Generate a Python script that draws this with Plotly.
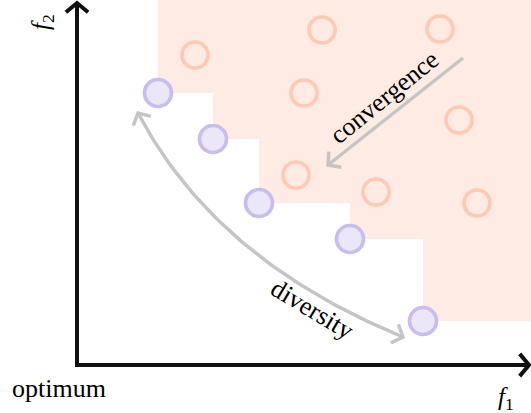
import numpy as np
import plotly.graph_objects as go

# ---- data (objective space, arbitrary units) ----
front_f1 = [8.1, 13.6, 18.2, 27.3, 34.6]          # Pareto-front approximation (purple)
front_f2 = [27.2, 22.6, 16.2, 12.6, 4.4]
pop_f1 = [11.8, 24.5, 36.3, 22.7, 38.2, 21.9, 29.9, 40.0]   # dominated solutions (orange)
pop_f2 = [31.0, 33.5, 33.6, 27.2, 24.5, 19.0, 17.3, 16.2]
x_range = [-7.7, 45.4]
y_range = [-4.8, 36.5]
axis_end_f1 = 45.2
axis_end_f2 = 36.2
conv_start = (38.6, 30.7)
conv_end = (25.1, 20.0)
div_start = (6.1, 25.2)
div_ctrl = (13.8, 10.5)
div_end = (32.6, 2.8)

SHADE = "rgb(254,235,227)"
ORANGE = "rgb(255,201,178)"
PURPLE_LINE = "rgb(200,189,238)"
PURPLE_FILL = "rgb(235,231,249)"
GRAY = "rgb(196,198,196)"
INK = "#000000"
FONT = "Liberation Serif"

fig = go.Figure()

# dominated region (staircase built from the front)
sx = [front_f1[0], front_f1[0]]
sy = [y_range[1], front_f2[0]]
for i in range(1, len(front_f1)):
    sx += [front_f1[i], front_f1[i]]
    sy += [front_f2[i - 1], front_f2[i]]
sx += [x_range[1], x_range[1]]
sy += [front_f2[-1], y_range[1]]
fig.add_trace(go.Scatter(x=sx, y=sy, mode="lines", fill="toself", fillcolor=SHADE,
                         line=dict(width=0, color=SHADE), hoverinfo="skip"))


def chevron(tip, direction, length=1.35, angle_deg=48):
    d = np.array(direction, float)
    d = d / np.linalg.norm(d)
    back = -d
    pts = []
    for s in (1, -1):
        a = np.radians(angle_deg * s)
        rot = np.array([[np.cos(a), -np.sin(a)], [np.sin(a), np.cos(a)]])
        pts.append(np.array(tip) + length * rot @ back)
    return [pts[0][0], tip[0], pts[1][0]], [pts[0][1], tip[1], pts[1][1]]


def add_line(xs, ys, color, width):
    fig.add_trace(go.Scatter(x=xs, y=ys, mode="lines",
                             line=dict(color=color, width=width), hoverinfo="skip"))


# axes
add_line([0, 0, axis_end_f1], [axis_end_f2, 0, 0], "#111111", 4)
cx, cy = chevron((axis_end_f1, 0), (1, 0), 1.45, 50)
add_line(cx, cy, "#111111", 4)
cx, cy = chevron((0, axis_end_f2), (0, 1), 1.45, 50)
add_line(cx, cy, "#111111", 4)

# convergence arrow
add_line([conv_start[0], conv_end[0]], [conv_start[1], conv_end[1]], GRAY, 3.5)
cx, cy = chevron(conv_end, (conv_end[0] - conv_start[0], conv_end[1] - conv_start[1]))
add_line(cx, cy, GRAY, 3.5)

# diversity curved double arrow (quadratic Bezier)
t = np.linspace(0, 1, 60)
P0, C, P2 = np.array(div_start), np.array(div_ctrl), np.array(div_end)
curve = np.outer((1 - t) ** 2, P0) + np.outer(2 * (1 - t) * t, C) + np.outer(t ** 2, P2)
add_line(curve[:, 0], curve[:, 1], GRAY, 3.5)
cx, cy = chevron(div_start, P0 - C)
add_line(cx, cy, GRAY, 3.5)
cx, cy = chevron(div_end, P2 - C)
add_line(cx, cy, GRAY, 3.5)

# points
fig.add_trace(go.Scatter(x=pop_f1, y=pop_f2, mode="markers",
                         marker=dict(size=26, color="rgba(0,0,0,0)",
                                     line=dict(color=ORANGE, width=3.7)),
                         hoverinfo="skip"))
fig.add_trace(go.Scatter(x=front_f1, y=front_f2, mode="markers",
                         marker=dict(size=27, color=PURPLE_FILL,
                                     line=dict(color=PURPLE_LINE, width=3.7)),
                         hoverinfo="skip"))

ann = [
    dict(text="convergence", x=30.7, y=26.75, textangle=-39, size=26),
    dict(text="diversity", x=23.55, y=5.6, textangle=31, size=26),
    dict(text="optimum", x=-1.8, y=-2.3, textangle=0, size=26),
    dict(text="<i>f</i><sub>1</sub>", x=42.9, y=-3.3, textangle=0, size=25),
    dict(text="<i>f</i><sub>2</sub>", x=-3.5, y=34.3, textangle=-90, size=25),
]
for a in ann:
    fig.add_annotation(text=a["text"], x=a["x"], y=a["y"], xref="x", yref="y",
                       showarrow=False, textangle=a["textangle"],
                       xanchor="center", yanchor="middle",
                       font=dict(family=FONT, size=a["size"], color=INK))

fig.update_layout(
    width=531, height=413, margin=dict(l=0, r=0, t=0, b=0),
    plot_bgcolor="white", paper_bgcolor="white", showlegend=False,
    xaxis=dict(range=x_range, visible=False, fixedrange=True),
    yaxis=dict(range=y_range, visible=False, fixedrange=True),
)
fig.write_html("out.html", config={"displayModeBar": False},
               post_script="document.body.style.margin='0';document.body.style.overflow='hidden';")
